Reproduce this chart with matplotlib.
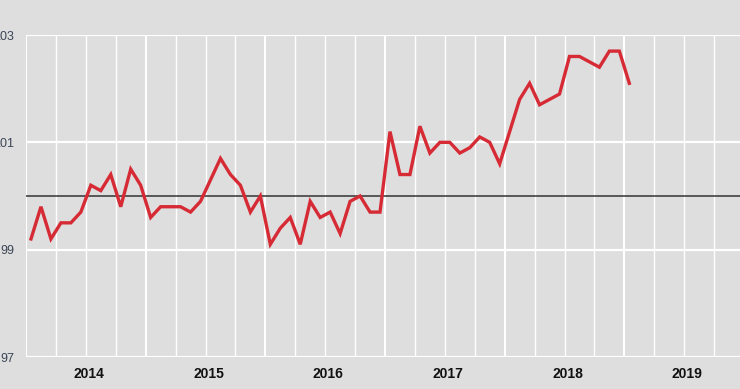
import matplotlib
matplotlib.use("Agg")
import matplotlib.pyplot as plt
import numpy as np

# Monthly index values, Jan 2014 .. Jan 2019
values = [99.2, 99.8, 99.2, 99.5, 99.5, 99.7, 100.2, 100.1, 100.4, 99.8, 100.5, 100.2,
          99.6, 99.8, 99.8, 99.8, 99.7, 99.9, 100.3, 100.7, 100.4, 100.2, 99.7, 100.0,
          99.1, 99.4, 99.6, 99.1, 99.9, 99.6, 99.7, 99.3, 99.9, 100.0, 99.7, 99.7,
          101.2, 100.4, 100.4, 101.3, 100.8, 101.0, 101.0, 100.8, 100.9, 101.1, 101.0, 100.6,
          101.2, 101.8, 102.1, 101.7, 101.8, 101.9, 102.6, 102.6, 102.5, 102.4, 102.7, 102.7,
          102.1]
years = ["2014", "2015", "2016", "2017", "2018", "2019"]
y_ticks = [97, 99, 101, 103]
baseline = 100

font = "Liberation Sans"
bg = "#dedede"
fig = plt.figure(figsize=(7.4, 3.89), dpi=100, facecolor=bg)
ax = fig.add_axes([26/740, 32/389, 718/740, 322/389], facecolor=bg)

months = np.arange(len(values)) + 0.5
n_months = 12 * len(years)

# quarterly vertical gridlines
for q in range(0, n_months + 1, 3):
    is_year = q % 12 == 0
    ax.axvline(q, color="white", lw=1.5 if is_year else 1.0, zorder=1)
for yv in y_ticks:
    ax.axhline(yv, color="white", lw=1.6, zorder=1)
ax.axhline(baseline, color="#333333", lw=1.1, zorder=2)

ax.plot(months, values, color="#d62a35", lw=2.4, zorder=3, solid_joinstyle="miter")

ax.set_xlim(0, n_months)
ax.set_ylim(97, 103)
ax.set_yticks(y_ticks)
ax.set_yticklabels([str(v) for v in y_ticks], fontsize=9, color="#3a4556", family=font)
ax.set_xticks([12 * k + 6.3 for k in range(len(years))])
ax.set_xticklabels(years, fontsize=10, fontweight="bold", color="#111111", family=font)
ax.tick_params(axis="both", length=0)
ax.tick_params(axis="y", pad=8.5)
ax.tick_params(axis="x", pad=7)
for s in ax.spines.values():
    s.set_visible(False)

fig.savefig("out.png", dpi=100, facecolor=bg)
